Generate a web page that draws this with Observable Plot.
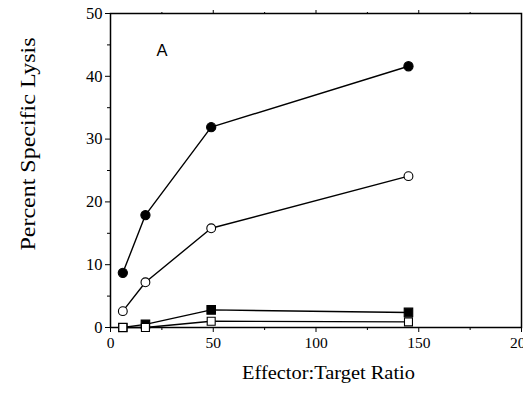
<!DOCTYPE html>
<html>
<head>
<meta charset="utf-8">
<script src="https://cdn.jsdelivr.net/npm/d3@7"></script>
<script src="https://cdn.jsdelivr.net/npm/@observablehq/plot@0.6"></script>
<style>
  html, body { margin: 0; padding: 0; background: white; }
</style>
</head>
<body>
<div id="chart"></div>
<script>
// Data
const etRatio = [6, 17, 49, 145];
const filledCircle = [8.7, 17.9, 31.9, 41.6];
const openCircle = [2.6, 7.2, 15.8, 24.1];
const filledSquare = [0, 0.5, 2.8, 2.4];
const openSquare = [0, 0, 1.0, 0.9];

const xTicks = [0, 50, 100, 150, 200];
const xMinorTicks = [25, 75, 125, 175];
const yTicks = [0, 10, 20, 30, 40, 50];
const yMinorTicks = [5, 15, 25, 35, 45];

const xLabel = "Effector:Target Ratio";
const yLabel = "Percent Specific Lysis";
const panelLabel = "A";

const series = [
  {name: "filledCircle", values: filledCircle, symbol: "circle", fill: "black", r: 4.6},
  {name: "openCircle", values: openCircle, symbol: "circle", fill: "white", r: 4.4},
  {name: "filledSquare", values: filledSquare, symbol: "square", fill: "black", r: 4.8},
  {name: "openSquare", values: openSquare, symbol: "square", fill: "white", r: 4.5}
];

const rows = series.flatMap(s => etRatio.map((x, i) => ({series: s.name, x, y: s.values[i]})));

const lineMarks = series.map(s =>
  Plot.line(rows.filter(d => d.series === s.name), {x: "x", y: "y", stroke: "black", strokeWidth: 1.4})
);
const dotMarks = series.map(s =>
  Plot.dot(rows.filter(d => d.series === s.name), {
    x: "x", y: "y", symbol: () => s.symbol, fill: s.fill, stroke: "black", strokeWidth: 1.1, r: s.r
  })
);

const chart = Plot.plot({
  width: 523,
  height: 400,
  marginLeft: 110,
  marginRight: 2,
  marginTop: 13,
  marginBottom: 73,
  x: {domain: [0, 200]},
  y: {domain: [0, 50]},
  style: {fontFamily: "'Liberation Serif', serif", fontSize: "15px", color: "black", background: "white"},
  marks: [
    Plot.axisX(xTicks, {tickSize: 5, tickPadding: 4, fontSize: 15.5, label: null}),
    Plot.axisX(xMinorTicks, {tickSize: 3, fill: "none", label: null}),
    Plot.axisX(xTicks.slice(1, -1), {anchor: "top", tickSize: 4, fill: "none", label: null}),
    Plot.axisX(xMinorTicks, {anchor: "top", tickSize: 2, fill: "none", label: null}),
    Plot.axisY(yTicks, {tickSize: 5, tickPadding: 3, fontSize: 16.5, label: null}),
    Plot.axisY(yMinorTicks, {tickSize: 3, fill: "none", label: null}),
    Plot.frame({stroke: "black", strokeWidth: 1.5}),
    ...lineMarks,
    ...dotMarks,
    Plot.text([panelLabel], {x: () => 25, y: () => 44, text: d => d, fontSize: 16.5,
      fontFamily: "'Liberation Sans', sans-serif", fill: "black"}),
    Plot.text([xLabel], {frameAnchor: "bottom", text: d => d, dx: 12.5, dy: 51, fontSize: 18, fill: "black"}),
    Plot.text([yLabel], {frameAnchor: "left", text: d => d, rotate: -90, textAnchor: "start",
      dx: -82, dy: 80, fontSize: 21, fill: "black"})
  ]
});

document.getElementById("chart").appendChild(chart);

d3.select(chart).selectAll("text").each(function() {
  if (this.textContent === yLabel) {
    d3.select(this).attr("textLength", 213).attr("lengthAdjust", "spacingAndGlyphs");
  } else if (this.textContent === xLabel) {
    d3.select(this).attr("textLength", 173).attr("lengthAdjust", "spacingAndGlyphs");
  }
});
</script>
</body>
</html>
